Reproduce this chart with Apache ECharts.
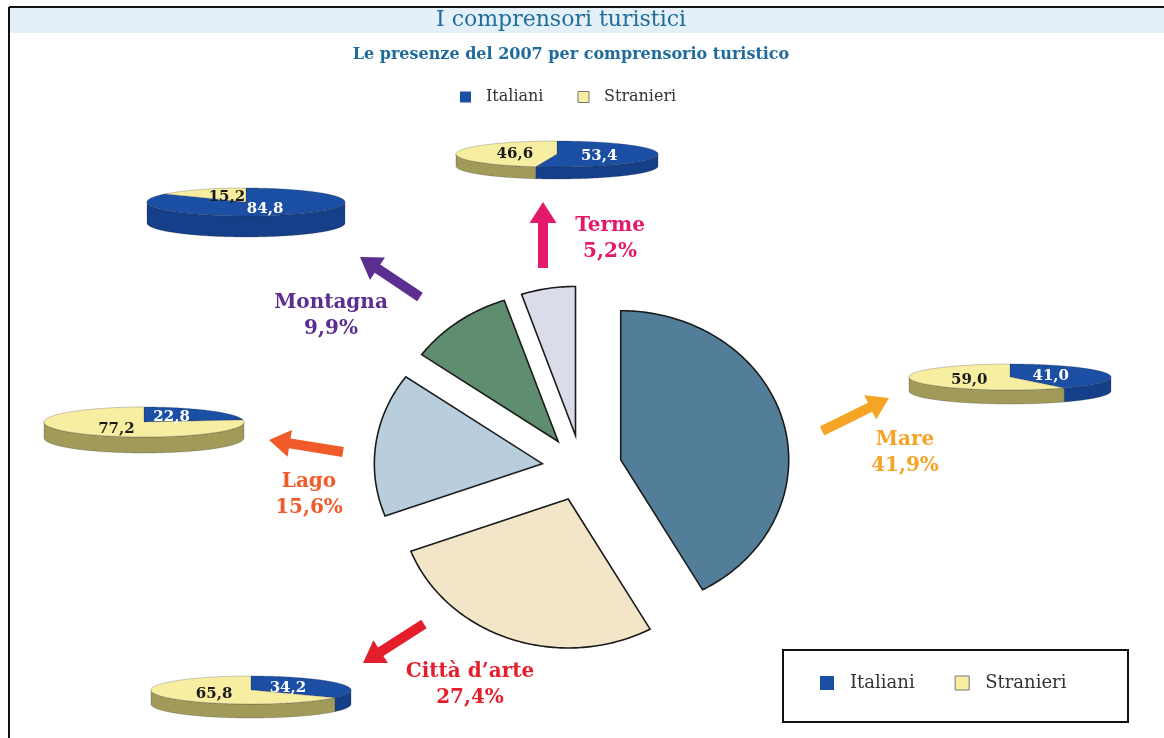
<!DOCTYPE html>
<html><head><meta charset="utf-8">
<script src="https://cdn.jsdelivr.net/npm/echarts@6/dist/echarts.min.js"></script>
<style>html,body{margin:0;padding:0;background:#fff}#c{width:1164px;height:738px}</style>
</head><body><div id="c"></div>
<script>
// ---- data ----
const categories = ['Mare', 'Città d’arte', 'Lago', 'Montagna', 'Terme'];
const shares = [41.9, 27.4, 15.6, 9.9, 5.2];
const italiani = [41.0, 34.2, 22.8, 84.8, 53.4];
const stranieri = [59.0, 65.8, 77.2, 15.2, 46.6];
const seriesNames = ['Italiani', 'Stranieri'];
const titleText = 'I comprensori turistici';
const subtitleText = 'Le presenze del 2007 per comprensorio turistico';

// ---- layout & style ----
const FONT = "'DejaVu Serif', 'Liberation Serif', serif";
const sliceColors = ['#527e99', '#f3e5c7', '#b8cedc', '#5f8d6f', '#dadcea'];
const catColors = ['#f5a425', '#e41e2b', '#f15a29', '#5b2e8f', '#e3196b'];
const topColors = ['#1a4fa3', '#f7eea2'];
const sideColors = ['#163f8a', '#a19a58'];
const labelColors = ['#ffffff', '#1a1a1a'];
const PIE = {cx: 582, cy: 468, rx: 168, ry: 149, ox: 40, oy: 33};
const mini = [
  {cx: 1010, cy: 377, rx: 101, ry: 13, t: 14},
  {cx: 251, cy: 690, rx: 100, ry: 14, t: 14},
  {cx: 144, cy: 422, rx: 100, ry: 15, t: 16},
  {cx: 246, cy: 202, rx: 99, ry: 14, t: 21},
  {cx: 557, cy: 154, rx: 101, ry: 13, t: 12}
];
const arrowLayout = [
  {from: [822, 431], to: [889, 398], lx: 905, ly: 453},
  {from: [424, 624], to: [363, 663], lx: 470, ly: 685},
  {from: [343, 452], to: [269, 440], lx: 309, ly: 495},
  {from: [420, 297], to: [360, 257], lx: 331, ly: 316},
  {from: [543, 268], to: [543, 202], lx: 610, ly: 239}
];

const TAU = Math.PI * 2;
const fmt = v => v.toFixed(1).replace('.', ',');
function ellPt(c, rx, ry, a) { return [c[0] + rx * Math.sin(a), c[1] - ry * Math.cos(a)]; }
function arc(c, rx, ry, a0, a1) {
  const n = Math.max(6, Math.ceil(Math.abs(a1 - a0) / 0.015));
  const p = [];
  for (let j = 0; j <= n; j++) p.push(ellPt(c, rx, ry, a0 + (a1 - a0) * j / n));
  return p;
}

function mainRender(params, api) {
  const i = params.dataIndex;
  const total = shares.reduce((s, v) => s + v, 0);
  let before = 0;
  for (let k = 0; k < i; k++) before += shares[k];
  const a0 = before / total * TAU;
  const a1 = (before + api.value(0)) / total * TAU;
  const mid = (a0 + a1) / 2;
  const apex = [PIE.cx + PIE.ox * Math.sin(mid), PIE.cy - PIE.oy * Math.cos(mid)];
  const pts = [apex].concat(arc(apex, PIE.rx, PIE.ry, a0, a1));
  return {type: 'polygon', shape: {points: pts},
    style: {fill: sliceColors[i], stroke: '#1b1b1b', lineWidth: 1.6}};
}

function miniRender(k) {
  return function (params, api) {
    const i = params.dataIndex, m = mini[i];
    const tot = italiani[i] + stranieri[i];
    const a0 = k === 0 ? 0 : italiani[i] / tot * TAU;
    const a1 = k === 0 ? italiani[i] / tot * TAU : TAU;
    const c = [m.cx, m.cy];
    const children = [];
    const s0 = Math.max(a0, Math.PI / 2), s1 = Math.min(a1, Math.PI * 1.5);
    if (s1 > s0) {
      const upper = arc(c, m.rx, m.ry, s0, s1);
      const lower = arc([m.cx, m.cy + m.t], m.rx, m.ry, s0, s1).reverse();
      children.push({type: 'polygon', shape: {points: upper.concat(lower)},
        style: {fill: sideColors[k], stroke: 'rgba(40,40,40,0.35)', lineWidth: 0.7}});
    }
    children.push({type: 'polygon', shape: {points: [c].concat(arc(c, m.rx, m.ry, a0, a1))},
      style: {fill: topColors[k], stroke: 'rgba(40,40,60,0.35)', lineWidth: 0.7}});
    const mid = (a0 + a1) / 2;
    const lp = ellPt(c, m.rx * 0.42, m.ry * 0.5, mid);
    children.push({type: 'text', z2: 10,
      style: {text: fmt(api.value(0)), x: lp[0], y: lp[1] + 1, font: 'bold 15px ' + FONT,
        fill: labelColors[k], textAlign: 'center', textVerticalAlign: 'middle'}});
    return {type: 'group', children: children};
  };
}

function arrowPts(f, t, sw, hl, hw) {
  const dx = t[0] - f[0], dy = t[1] - f[1], L = Math.hypot(dx, dy);
  const ux = dx / L, uy = dy / L, px = -uy, py = ux;
  const b = [t[0] - ux * hl, t[1] - uy * hl];
  return [
    [f[0] + px * sw / 2, f[1] + py * sw / 2], [b[0] + px * sw / 2, b[1] + py * sw / 2],
    [b[0] + px * hw / 2, b[1] + py * hw / 2], t,
    [b[0] - px * hw / 2, b[1] - py * hw / 2], [b[0] - px * sw / 2, b[1] - py * sw / 2],
    [f[0] - px * sw / 2, f[1] - py * sw / 2]
  ];
}

const graphics = [
  {type: 'rect', shape: {x: 10, y: 8, width: 1154, height: 25}, style: {fill: '#e3f0f8'}, z: 0},
  {type: 'line', shape: {x1: 9, y1: 7, x2: 1164, y2: 7}, style: {stroke: '#111', lineWidth: 2}},
  {type: 'line', shape: {x1: 9, y1: 7, x2: 9, y2: 738}, style: {stroke: '#111', lineWidth: 2}},
  {type: 'text', style: {text: titleText, x: 561, y: 20, font: '22px ' + FONT, fill: '#1f6c9c',
    textAlign: 'center', textVerticalAlign: 'middle'}},
  {type: 'text', style: {text: subtitleText, x: 571, y: 55, font: 'bold 16px ' + FONT, fill: '#1f6c9c',
    textAlign: 'center', textVerticalAlign: 'middle'}},
  {type: 'rect', shape: {x: 783, y: 650, width: 345, height: 72},
    style: {fill: '#fff', stroke: '#111', lineWidth: 2}}
];
categories.forEach((name, i) => {
  const a = arrowLayout[i];
  graphics.push({type: 'polygon', shape: {points: arrowPts(a.from, a.to, 10, 21, 27)},
    style: {fill: catColors[i]}});
  graphics.push({type: 'text', style: {text: name + '\n' + fmt(shares[i]) + '%', x: a.lx, y: a.ly,
    font: 'bold 20px ' + FONT, fill: catColors[i], textAlign: 'center', textVerticalAlign: 'middle',
    lineHeight: 26}});
});

const legendData = [{name: seriesNames[0]},
  {name: seriesNames[1], itemStyle: {borderColor: '#777', borderWidth: 1}}];

const chart = echarts.init(document.getElementById('c'));
chart.setOption({
  animation: false,
  backgroundColor: '#fff',
  legend: [
    {data: legendData, left: 460, top: 89, padding: 0, icon: 'rect', itemWidth: 11, itemHeight: 11, itemGap: 34,
      selectedMode: false, textStyle: {fontFamily: FONT, fontSize: 16, color: '#333', padding: [0, 0, 0, 10]}},
    {data: legendData, left: 820, top: 674, padding: 0, icon: 'rect', itemWidth: 14, itemHeight: 14, itemGap: 40,
      selectedMode: false, z: 10, textStyle: {fontFamily: FONT, fontSize: 18, color: '#333', padding: [0, 0, 0, 11]}}
  ],
  graphic: {elements: graphics},
  series: [
    {type: 'custom', name: 'Comprensori', coordinateSystem: 'none', data: shares,
      renderItem: mainRender, silent: true},
    {type: 'custom', name: seriesNames[0], coordinateSystem: 'none', data: italiani,
      itemStyle: {color: topColors[0]}, renderItem: miniRender(0), silent: true},
    {type: 'custom', name: seriesNames[1], coordinateSystem: 'none', data: stranieri,
      itemStyle: {color: topColors[1]}, renderItem: miniRender(1), silent: true}
  ]
});
</script></body></html>
